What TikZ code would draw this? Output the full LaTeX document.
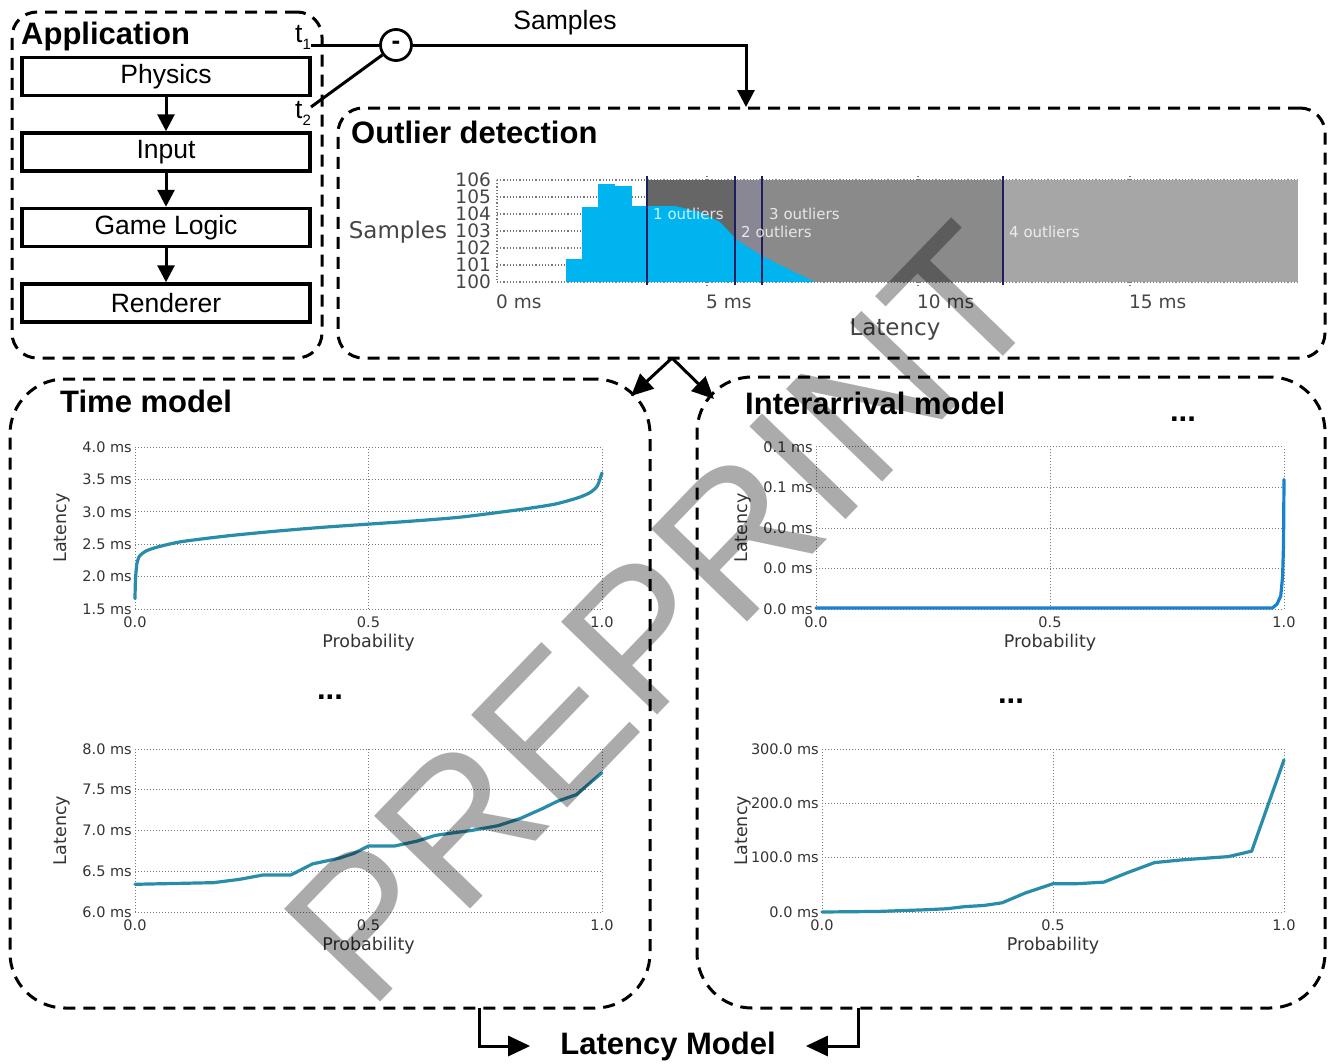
\documentclass[tikz,border=0pt]{standalone}
\usepackage{fontspec}
\setmainfont{Liberation Sans}
\newfontfamily\plotfont{DejaVu Sans}
\usepackage{tikz}
\usetikzlibrary{positioning,arrows.meta,calc}
\definecolor{curveteal}{HTML}{2A8CAB}
\definecolor{histblue}{HTML}{00B4F0}
\definecolor{navyline}{HTML}{1E1E5E}
\definecolor{gridgray}{HTML}{7A7A7A}
\definecolor{plottext}{HTML}{333333}
\definecolor{histtext}{HTML}{454545}
\definecolor{outpurple}{HTML}{8A8794}
\newcommand{\tsub}[1]{\raisebox{-0.55ex}{\fontsize{15}{15}\selectfont #1}}

\begin{document}
\begin{tikzpicture}[x=1pt,y=-1pt,
  every node/.style={inner sep=2pt},
  groupbox/.style={draw,line width=3pt,dash pattern=on 12pt off 8pt,rounded corners=#1,inner sep=0pt},
  boxtitle/.style={font=\bfseries\fontsize{31}{34}\selectfont,inner sep=0pt},
  stage/.style={draw,line width=3.5pt,minimum width=288pt,minimum height=38pt,inner sep=0pt,font=\fontsize{26.5}{30}\selectfont},
  lbl/.style={font=\fontsize{26.5}{30}\selectfont},
  flow/.style={line width=3pt,-{Triangle[length=17pt,width=17pt]}},
  fork/.style={line width=3pt,-{Triangle[length=22pt,width=20pt]}},
  wire/.style={line width=3pt},
  histtick/.style={font=\plotfont\fontsize{18.5}{20}\selectfont,text=histtext,inner sep=1pt},
  histlbl/.style={font=\plotfont\fontsize{23}{25}\selectfont,text=histtext},
  outtxt/.style={font=\plotfont\fontsize{15}{16}\selectfont,text=white,text opacity=0.8,anchor=west,inner sep=0pt},
  hgrid/.style={gridgray,line width=1.2pt,dotted},
  ptick/.style={font=\plotfont\fontsize{14.5}{16}\selectfont,text=plottext,inner sep=3pt},
  plbl/.style={font=\plotfont\fontsize{17.5}{19}\selectfont,text=plottext},
  pgrid/.style={gridgray,line width=1pt,dotted},
  curveline/.style={curveteal,line width=3.2pt,line join=round,line cap=round},
  ellip/.style={font=\bfseries\fontsize{31}{34}\selectfont,inner sep=0pt,anchor=base},
  wmark/.style={font=\fontsize{194}{194}\selectfont,text=black,text opacity=0.33,inner sep=0pt}
]
  \useasboundingbox (0,0) rectangle (1328,1063);

  % dashed groups
  \node[groupbox=25pt,minimum width=310pt,minimum height=346pt] (app) at (167,185) {};
  \node[groupbox=25pt,minimum width=987pt,minimum height=250pt] (outl) at (831.5,233) {};
  \node[groupbox=55pt,minimum width=640pt,minimum height=629pt] (timem) at (330,693.5) {};
  \node[groupbox=55pt,minimum width=628pt,minimum height=631pt] (iam) at (1011,692.5) {};
  \node[boxtitle,anchor=base west] (apptitle) at (21,44) {Application};
  \node[boxtitle,anchor=base west] (outltitle) at (351,143) {Outlier detection};
  \node[boxtitle,anchor=base west] (timetitle) at (60,412) {Time model};
  \node[boxtitle,anchor=base west] (iatitle) at (745,414) {Interarrival model};

  % application stages
  \node[stage] (phys) at (166,76.5) {Physics};
  \node[stage,below=34pt of phys] (inp) {Input};
  \node[stage,below=34pt of inp] (logic) {Game Logic};
  \node[stage,below=34pt of logic] (rend) {Renderer};
  \foreach \a/\b in {phys/inp,inp/logic,logic/rend}
    \draw[flow] (\a) -- (\b);

  % timestamps and difference
  \node[lbl,anchor=base west,inner sep=0pt] (tone) at (295,42) {t\tsub{1}};
  \node[lbl,anchor=base west,inner sep=0pt] (ttwo) at (295,118) {t\tsub{2}};
  \node[circle,draw,line width=2.8pt,minimum size=31pt,inner sep=0pt,font=\bfseries\fontsize{26}{26}\selectfont] (minus) at (396,45) {-};
  \coordinate (ttwoend) at (311,107);
  \draw[wire] (minus.west -| tone.east) -- (minus.west);
  \draw[wire] (ttwoend) -- (minus);
  \coordinate (sampin) at (746,107);
  \draw[flow] (minus) -| (sampin);
  \node[lbl] (samplbl) at (565,23) {Samples};

  % histogram
  \foreach \k/\v in {0/106,1/105,2/104,3/103,4/102,5/101,6/100}{
    \draw[hgrid] (497,{180+17*\k}) -- (1298,{180+17*\k});
    \node[histtick,anchor=east] (hy\k) at (492,{180+17*\k}) {\v};
  }
  \draw[hgrid] (497,180) -- (497,282);
  \foreach \x in {707,918,1130}
    \draw[hgrid] (\x,176) -- (\x,180) (\x,282) -- (\x,287);
  \fill[black!60] (647,180) rectangle (735,282);
  \fill[outpurple] (735,180) rectangle (762,282);
  \fill[black!46] (762,180) rectangle (1003,282);
  \fill[black!35] (1003,180) rectangle (1298,282);
  \foreach \xa/\xb/\yt in {566/582/259,582/598/207,598/615/184,615/632/186,632/647/206}
    \fill[histblue] (\xa,\yt) rectangle (\xb,282);
  \fill[histblue] (647,206) -- (675,206) -- (700,212) -- (720,222) -- (737,240) -- (762,256)
    -- (790,270) -- (815,282) -- (647,282) -- cycle;
  \foreach \x in {647,735,762,1003}
    \draw[navyline,line width=2.5pt] (\x,176) -- (\x,285);
  \node[outtxt] (o1) at (653,214) {1 outliers};
  \node[outtxt] (o2) at (741,232) {2 outliers};
  \node[outtxt] (o3) at (769,214) {3 outliers};
  \node[outtxt] (o4) at (1009,232) {4 outliers};
  \foreach \x/\t in {497/0,707/5,918/10,1130/15}
    \node[histtick,anchor=west] (hx\t) at (\x-2,302) {\t\ ms};
  \node[histlbl] (hylbl) at (398,232) {Samples};
  \node[histlbl] (hxlbl) at (895,330) {Latency};

  % outlier detection feeds both models
  \coordinate (split) at (672,358);
  \coordinate (timein) at (631,396);
  \coordinate (iain) at (714,399);
  \draw[fork] (split) -- (timein);
  \draw[fork] (split) -- (iain);

  % time model, first run
  \begin{scope}[shift={(135,706.2)},x=467pt,y=64.8pt]
    \foreach \v [count=\i] in {1.5,2.0,2.5,3.0,3.5,4.0}{
      \draw[pgrid] (0,\v) -- (1,\v);
      \node[ptick,anchor=east] (tay\i) at (0,\v) {\v\ ms};
    }
    \foreach \p/\t [count=\i] in {0/0.0,0.5/0.5,1/1.0}{
      \draw[pgrid] (\p,1.5) -- (\p,4.0);
      \node[ptick,yshift=-13pt] (tax\i) at (\p,1.5) {\t};
    }
    \node[plbl,yshift=-34pt] (taxl) at (0.5,1.5) {Probability};
    \node[plbl,xshift=-73pt,rotate=90] (tayl) at (0,2.75) {Latency};
    \draw[curveline] plot[smooth,tension=0.4] coordinates {(0,1.66) (0.001,1.95) (0.004,2.2)
      (0.01,2.32) (0.025,2.4) (0.05,2.46) (0.1,2.54) (0.2,2.63) (0.3,2.7) (0.4,2.76) (0.5,2.81)
      (0.6,2.86) (0.7,2.92) (0.83,3.04) (0.9,3.12) (0.95,3.22) (0.975,3.3) (0.99,3.4) (1,3.6)};
  \end{scope}

  % time model, last run
  \begin{scope}[shift={(135,1401)},x=467pt,y=81.5pt]
    \foreach \v [count=\i] in {6.0,6.5,7.0,7.5,8.0}{
      \draw[pgrid] (0,\v) -- (1,\v);
      \node[ptick,anchor=east] (tby\i) at (0,\v) {\v\ ms};
    }
    \foreach \p/\t [count=\i] in {0/0.0,0.5/0.5,1/1.0}{
      \draw[pgrid] (\p,6.0) -- (\p,8.0);
      \node[ptick,yshift=-13pt] (tbx\i) at (\p,6.0) {\t};
    }
    \node[plbl,yshift=-34pt] (tbxl) at (0.5,6.0) {Probability};
    \node[plbl,xshift=-73pt,rotate=90] (tbyl) at (0,7.0) {Latency};
    \draw[curveline] plot coordinates {(0,6.34) (0.168,6.36) (0.223,6.4) (0.275,6.455)
      (0.334,6.455) (0.38,6.59) (0.437,6.66) (0.469,6.72) (0.5,6.81) (0.556,6.81) (0.604,6.87)
      (0.643,6.94) (0.667,6.96) (0.72,7.0) (0.778,7.06) (0.826,7.15) (0.873,7.27) (0.905,7.36)
      (0.945,7.44) (1,7.71)};
  \end{scope}

  % interarrival model, first run
  \begin{scope}[shift={(816,609)},x=468pt,y=1620pt]
    \foreach \v/\t [count=\i] in {0/0.0,0.025/0.0,0.05/0.0,0.075/0.1,0.1/0.1}{
      \draw[pgrid] (0,\v) -- (1,\v);
      \node[ptick,anchor=east] (iay\i) at (0,\v) {\t\ ms};
    }
    \foreach \p/\t [count=\i] in {0/0.0,0.5/0.5,1/1.0}{
      \draw[pgrid] (\p,0) -- (\p,0.1);
      \node[ptick,yshift=-13pt] (iax\i) at (\p,0) {\t};
    }
    \node[plbl,yshift=-34pt] (iaxl) at (0.5,0) {Probability};
    \node[plbl,xshift=-73pt,rotate=90] (iayl) at (0,0.05) {Latency};
    \draw[curveline,color=curveteal!70!blue!80!cyan] plot coordinates {(0,0.0006) (0.975,0.0006)
      (0.985,0.003) (0.993,0.008) (0.997,0.02) (0.999,0.04) (1,0.08)};
  \end{scope}

  % interarrival model, last run
  \begin{scope}[shift={(822,912)},x=462pt,y=0.5433pt]
    \foreach \v [count=\i] in {0,100,200,300}{
      \draw[pgrid] (0,\v) -- (1,\v);
      \node[ptick,anchor=east] (iby\i) at (0,\v) {\v.0 ms};
    }
    \foreach \p/\t [count=\i] in {0/0.0,0.5/0.5,1/1.0}{
      \draw[pgrid] (\p,0) -- (\p,300);
      \node[ptick,yshift=-13pt] (ibx\i) at (\p,0) {\t};
    }
    \node[plbl,yshift=-34pt] (ibxl) at (0.5,0) {Probability};
    \node[plbl,xshift=-79pt,rotate=90] (ibyl) at (0,150) {Latency};
    \draw[curveline] plot coordinates {(0,0) (0.12,1) (0.22,4) (0.27,6) (0.31,10) (0.35,12)
      (0.39,17) (0.44,35) (0.5,52) (0.55,52) (0.61,55) (0.66,72) (0.72,91) (0.78,96) (0.83,99)
      (0.88,102) (0.93,112) (1,280)};
  \end{scope}

  % more runs
  \node[ellip] (tdots) at (330,699) {...};
  \node[ellip] (idots) at (1011,703) {...};
  \node[ellip] (topdots) at (1183,421) {...};

  % combined model
  \node[boxtitle] (latmod) at (668,1046) {Latency Model};
  \coordinate (tmout) at (479,1008);
  \coordinate (iaout) at (858,1008);
  \draw[fork,shorten >=30pt] (tmout) |- (latmod);
  \draw[fork,shorten >=30pt] (iaout) |- (latmod);

  % watermark
  \node[wmark,rotate=46] (wm) at (662,614) {PREPRINT};
\end{tikzpicture}
\end{document}
